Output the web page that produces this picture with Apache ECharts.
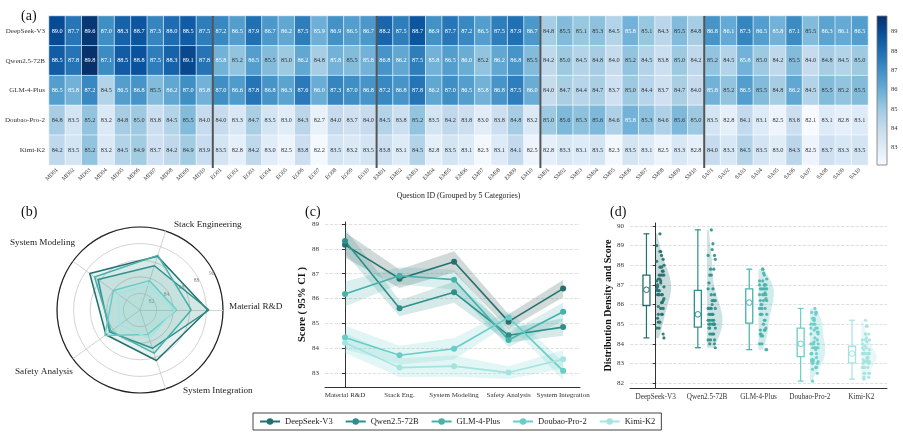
<!DOCTYPE html>
<html>
<head>
<meta charset="utf-8">
<script src="https://cdn.jsdelivr.net/npm/echarts@6/dist/echarts.min.js"></script>
<style>
  html, body { margin: 0; padding: 0; background: #fff; }
  #chart { width: 903px; height: 437px; }
</style>
</head>
<body>
<div id="chart"></div>
<script>
const models = ['DeepSeek-V3', 'Qwen2.5-72B', 'GLM-4-Plus', 'Doubao-Pro-2', 'Kimi-K2'];
const groupCodes = ['MD', 'EO', 'EM', 'SM', 'SA'];
const questionIds = groupCodes.flatMap(g => [1,2,3,4,5,6,7,8,9,10].map(n => g + String(n).padStart(2, '0')));
const categoryShort = ['Material R&D', 'Stack Eng.', 'System Modeling', 'Safety Analysis', 'System Integration'];
const categoryFull = ['Material R&D', 'Stack Engineering', 'System Modeling', 'Safety Analysis', 'System Integration'];

// scores per question (10 per category, same order as questionIds)
const deepseekScores = [
  89.0, 87.7, 89.6, 87.0, 88.3, 88.7, 87.3, 88.0, 88.5, 87.5,
  87.2, 86.5, 87.9, 86.7, 86.2, 87.5, 85.9, 86.9, 86.5, 86.7,
  88.2, 87.5, 88.7, 86.9, 87.7, 87.2, 86.5, 87.5, 87.9, 86.7,
  84.8, 85.5, 85.1, 85.3, 84.5, 85.8, 85.1, 84.3, 85.5, 84.8,
  86.8, 86.1, 87.3, 86.5, 85.8, 87.1, 85.5, 86.3, 86.1, 86.5
];
const qwenScores = [
  88.5, 87.8, 89.8, 87.1, 88.5, 88.8, 87.5, 88.3, 89.1, 87.8,
  85.8, 85.2, 86.5, 85.5, 85.0, 86.2, 84.8, 85.8, 85.5, 85.8,
  86.8, 86.2, 87.5, 85.8, 86.5, 86.0, 85.2, 86.2, 86.8, 85.5,
  84.2, 85.0, 84.5, 84.8, 84.0, 85.2, 84.5, 83.8, 85.0, 84.2,
  85.2, 84.5, 85.8, 85.0, 84.2, 85.5, 84.0, 84.8, 84.5, 85.0
];
const glmScores = [
  86.5, 85.8, 87.2, 84.5, 86.5, 86.8, 85.5, 86.2, 87.0, 85.8,
  87.0, 86.6, 87.8, 86.8, 86.3, 87.6, 86.0, 87.3, 87.0, 86.8,
  87.2, 86.8, 87.8, 86.2, 87.0, 86.5, 85.8, 86.8, 87.5, 86.0,
  84.0, 84.7, 84.4, 84.7, 83.7, 85.0, 84.4, 83.7, 84.7, 84.0,
  85.8, 85.2, 86.5, 85.5, 84.8, 86.2, 84.5, 85.5, 85.2, 85.5
];
const doubaoScores = [
  84.8, 83.5, 85.2, 83.2, 84.8, 85.0, 83.8, 84.5, 85.5, 84.0,
  84.0, 83.3, 84.7, 83.5, 83.0, 84.3, 82.7, 84.0, 83.7, 84.0,
  84.5, 83.8, 85.2, 83.5, 84.2, 83.8, 83.0, 83.8, 84.8, 83.2,
  85.0, 85.6, 85.3, 85.6, 84.6, 85.8, 85.3, 84.6, 85.6, 85.0,
  83.5, 82.8, 84.1, 83.1, 82.5, 83.8, 82.1, 83.1, 82.8, 83.1
];
const kimiScores = [
  84.2, 83.5, 85.2, 83.2, 84.5, 84.9, 83.7, 84.2, 84.9, 83.9,
  83.5, 82.8, 84.2, 83.0, 82.5, 83.8, 82.2, 83.5, 83.2, 83.5,
  83.8, 83.1, 84.5, 82.8, 83.5, 83.1, 82.3, 83.1, 84.1, 82.5,
  82.8, 83.3, 83.1, 83.5, 82.3, 83.5, 83.1, 82.5, 83.3, 82.8,
  84.0, 83.3, 84.5, 83.5, 83.0, 84.3, 82.5, 83.7, 83.3, 83.5
];
const allScores = [deepseekScores, qwenScores, glmScores, doubaoScores, kimiScores];
const colorTicks = [83, 84, 85, 86, 87, 88, 89];
const lineTicks = [83, 84, 85, 86, 87, 88, 89];
const distTicks = [82, 83, 84, 85, 86, 87, 88, 89, 90];
const radarTicks = [82, 84, 86, 88, 90];

const SERIF = "'Liberation Serif', 'DejaVu Serif', serif";
const colors = ['#22716e', '#2e8f8a', '#47b1ab', '#68cdc7', '#a3e4e0'];
const bandColors = ['rgba(70,105,104,0.25)', 'rgba(46,143,138,0.2)', 'rgba(71,177,171,0.2)', 'rgba(104,205,199,0.2)', 'rgba(140,220,215,0.25)'];
const blues = ['#f7fbff', '#deebf7', '#c6dbef', '#9ecae1', '#6baed6', '#4292c6', '#2171b5', '#08519c', '#08306b'];
const scoreMin = Math.min(...allScores.flat());
const scoreMax = Math.max(...allScores.flat());

const mean = a => a.reduce((s, v) => s + v, 0) / a.length;
const stdev = a => { const m = mean(a); return Math.sqrt(a.reduce((s, v) => s + (v - m) ** 2, 0) / (a.length - 1)); };
const quantile = (sorted, q) => {
  const pos = (sorted.length - 1) * q, lo = Math.floor(pos), hi = Math.ceil(pos);
  return sorted[lo] + (sorted[hi] - sorted[lo]) * (pos - lo);
};

// category means and 95% CI
const catStats = allScores.map(s => groupCodes.map((g, c) => {
  const v = s.slice(c * 10, c * 10 + 10);
  const m = mean(v), ci = 1.96 * stdev(v) / Math.sqrt(v.length);
  return { m, lo: m - ci, hi: m + ci };
}));

// box stats
const boxStats = allScores.map(s => {
  const srt = [...s].sort((a, b) => a - b);
  return { min: srt[0], q1: quantile(srt, 0.25), med: quantile(srt, 0.5), q3: quantile(srt, 0.75), max: srt[srt.length - 1] };
});

// half violin density
const kdes = allScores.map(s => {
  const h = stdev(s) * Math.pow(s.length, -0.2);
  const lo = Math.min(...s), hi = Math.max(...s);
  const pts = [];
  for (let k = 0; k <= 60; k++) {
    const y = lo + (hi - lo) * k / 60;
    pts.push([y, s.reduce((acc, v) => acc + Math.exp(-0.5 * ((y - v) / h) ** 2), 0)]);
  }
  const dmax = Math.max(...pts.map(p => p[1]));
  return pts.map(p => [p[0], p[1] / dmax]);
});

const heatData = [];
allScores.forEach((s, r) => s.forEach((v, c) => heatData.push({
  value: [c, r, v],
  label: { color: v >= 85.7 ? '#fff' : '#333' }
})));

const chart = echarts.init(document.getElementById('chart'));

const titleStyle = { fontFamily: SERIF, fontSize: 14, fontWeight: 'normal', color: '#111' };
const axisText = { fontFamily: SERIF, color: '#333' };

const series = [];
series.push({
  type: 'heatmap', xAxisIndex: 0, yAxisIndex: 0, data: heatData,
  label: { show: true, fontSize: 6.3, fontFamily: SERIF, formatter: p => p.value[2].toFixed(1) },
  itemStyle: { borderColor: '#fff', borderWidth: 0.6 },
  emphasis: { disabled: true }
});
// group separators
series.push({
  type: 'custom', xAxisIndex: 1, yAxisIndex: 0, silent: true, z: 5,
  data: groupCodes.slice(1).map((g, k) => [(k + 1) * 10, 0]),
  renderItem: (params, api) => {
    const cs = params.coordSys;
    const x = api.coord([api.value(0), 0])[0];
    return { type: 'line', shape: { x1: x, y1: cs.y, x2: x, y2: cs.y + cs.height + 3 }, style: { stroke: '#555', lineWidth: 2 } };
  }
});
// colorbar
series.push({
  type: 'custom', xAxisIndex: 2, yAxisIndex: 1, silent: true,
  data: [[0.5, scoreMin]],
  renderItem: (params) => {
    const cs = params.coordSys;
    return {
      type: 'rect', shape: { x: cs.x, y: cs.y, width: cs.width, height: cs.height },
      style: {
        fill: new echarts.graphic.LinearGradient(0, 1, 0, 0, blues.map((c, i) => ({ offset: i / (blues.length - 1), color: c }))),
        stroke: '#777', lineWidth: 0.8
      }
    };
  }
});
// radar
series.push({
  type: 'radar', radarIndex: 0, symbol: 'none', silent: true,
  data: models.map((m, i) => ({
    name: m, value: catStats[i].map(s => s.m),
    lineStyle: { color: colors[i], width: 1.5 },
    itemStyle: { color: colors[i] },
    areaStyle: { color: colors[i], opacity: 0.1 }
  }))
});
// CI bands
series.push({
  type: 'custom', xAxisIndex: 3, yAxisIndex: 2, silent: true, z: 1,
  data: models.map((m, i) => [i, catStats[i][0].m]),
  renderItem: (params, api) => {
    const i = params.dataIndex;
    const upper = catStats[i].map((s, k) => api.coord([k, s.hi]));
    const lower = catStats[i].map((s, k) => api.coord([k, s.lo])).reverse();
    return { type: 'polygon', shape: { points: upper.concat(lower) }, style: { fill: bandColors[i] } };
  }
});
models.forEach((m, i) => {
  series.push({
    type: 'line', name: m, xAxisIndex: 3, yAxisIndex: 2, symbol: 'circle', symbolSize: 6,
    color: colors[i], lineStyle: { width: 1.6, color: colors[i] }, itemStyle: { color: colors[i] },
    data: catStats[i].map((s, k) => [k, s.m]), z: 3
  });
});
// violins
series.push({
  type: 'custom', xAxisIndex: 4, yAxisIndex: 3, silent: true, z: 1,
  data: models.map((m, i) => [i, boxStats[i].med]),
  renderItem: (params, api) => {
    const i = params.dataIndex;
    const pts = [api.coord([i, kdes[i][0][0]])];
    kdes[i].forEach(p => pts.push(api.coord([i + 0.3 * p[1], p[0]])));
    pts.push(api.coord([i, kdes[i][kdes[i].length - 1][0]]));
    return { type: 'polygon', shape: { points: pts }, style: { fill: colors[i], opacity: 0.25 } };
  }
});
// strip points
models.forEach((m, i) => {
  series.push({
    type: 'scatter', name: '_pts' + i, xAxisIndex: 4, yAxisIndex: 3, symbolSize: 3.2, silent: true, z: 3,
    itemStyle: { color: colors[i], opacity: 0.9 },
    data: allScores[i].map((v, j) => [i + 0.02 + 0.14 * ((j * 7) % 10) / 9, v])
  });
});
// boxes
series.push({
  type: 'custom', xAxisIndex: 4, yAxisIndex: 3, silent: true, z: 4,
  data: models.map((m, i) => [i, boxStats[i].med]),
  renderItem: (params, api) => {
    const i = params.dataIndex, st = boxStats[i], c = colors[i];
    const xc = api.coord([i - 0.18, st.med])[0];
    const hw = 3.5;
    const y = v => api.coord([i, v])[1];
    const ls = { stroke: c, lineWidth: 1.2 };
    return {
      type: 'group', children: [
        { type: 'line', shape: { x1: xc, y1: y(st.max), x2: xc, y2: y(st.q3) }, style: ls },
        { type: 'line', shape: { x1: xc, y1: y(st.q1), x2: xc, y2: y(st.min) }, style: ls },
        { type: 'line', shape: { x1: xc - 3, y1: y(st.max), x2: xc + 3, y2: y(st.max) }, style: ls },
        { type: 'line', shape: { x1: xc - 3, y1: y(st.min), x2: xc + 3, y2: y(st.min) }, style: ls },
        { type: 'rect', shape: { x: xc - hw, y: y(st.q3), width: hw * 2, height: y(st.q1) - y(st.q3) }, style: { fill: '#fff', stroke: c, lineWidth: 1.3 } },
        { type: 'circle', shape: { cx: xc, cy: y(st.med), r: 2.8 }, style: { fill: '#fff', stroke: c, lineWidth: 1 } }
      ]
    };
  }
});

const radarNamePos = [[229, 307], [174, 225], [10, 243], [15, 372], [183, 391]];

const option = {
  animation: false,
  backgroundColor: '#fff',
  title: [
    { text: '(a)', left: 16, top: 4, textStyle: titleStyle },
    { text: '(b)', left: 16, top: 200, textStyle: titleStyle },
    { text: '(c)', left: 300, top: 200, textStyle: titleStyle },
    { text: '(d)', left: 605, top: 200, textStyle: titleStyle }
  ],
  legend: {
    data: models, left: 253, top: 413,
    itemWidth: 20, itemHeight: 8, itemGap: 12,
    borderColor: '#444', borderWidth: 1, padding: [4, 6],
    textStyle: { fontFamily: SERIF, fontSize: 8.5, color: '#222' }
  },
  visualMap: { show: false, seriesIndex: 0, dimension: 2, min: scoreMin, max: scoreMax, inRange: { color: blues } },
  grid: [
    { left: 49, top: 16, width: 819, height: 149 },
    { left: 877, top: 16, width: 10, height: 149 },
    { left: 325, top: 222, width: 255, height: 165 },
    { left: 630, top: 223, width: 257, height: 165 }
  ],
  xAxis: [
    {
      gridIndex: 0, type: 'category', data: questionIds,
      axisLine: { show: false }, axisTick: { length: 3, lineStyle: { color: '#555' } },
      axisLabel: { rotate: 45, interval: 0, fontSize: 5.8, margin: 4, ...axisText },
      name: 'Question ID (Grouped by 5 Categories)', nameLocation: 'middle', nameGap: 27,
      nameTextStyle: { fontFamily: SERIF, fontSize: 7.8, color: '#222' }
    },
    { gridIndex: 0, type: 'value', min: 0, max: 50, show: false },
    { gridIndex: 1, type: 'value', min: 0, max: 1, show: false },
    {
      gridIndex: 2, type: 'value', min: -0.367, max: 4.31,
      axisLine: { lineStyle: { color: '#333' } },
      axisTick: { show: false, customValues: [0, 1, 2, 3, 4] },
      axisLabel: { customValues: [0, 1, 2, 3, 4], formatter: v => categoryShort[Math.round(v)], fontSize: 7, margin: 5, ...axisText },
      splitLine: { show: false }
    },
    {
      gridIndex: 3, type: 'value', min: -0.5, max: 4.5,
      axisLine: { lineStyle: { color: '#333' } },
      axisTick: { show: false, customValues: [0, 1, 2, 3, 4] },
      axisLabel: { customValues: [0, 1, 2, 3, 4], formatter: v => models[Math.round(v)], fontSize: 7.2, margin: 6, ...axisText },
      splitLine: { show: false }
    }
  ],
  yAxis: [
    {
      gridIndex: 0, type: 'category', data: models, inverse: true,
      axisLine: { show: false }, axisTick: { length: 3, lineStyle: { color: '#555' } },
      axisLabel: { fontSize: 7, margin: 4, ...axisText }
    },
    {
      gridIndex: 1, type: 'value', min: scoreMin, max: scoreMax, position: 'right',
      axisLine: { show: false }, splitLine: { show: false },
      axisTick: { length: 3, customValues: colorTicks, lineStyle: { color: '#555' } },
      axisLabel: { customValues: colorTicks, fontSize: 6.5, margin: 4, ...axisText }
    },
    {
      gridIndex: 2, type: 'value', min: 82.44, max: 89.08,
      axisLine: { show: true, lineStyle: { color: '#333' } },
      axisTick: { show: true, length: 3, customValues: lineTicks, lineStyle: { color: '#333' } },
      axisLabel: { customValues: lineTicks, fontSize: 7, margin: 6, ...axisText },
      splitLine: { show: true, lineStyle: { color: '#d8d8d8', type: 'dashed', width: 0.8 } },
      name: 'Score ( 95% CI )', nameLocation: 'middle', nameGap: 15, nameRotate: 90,
      nameTextStyle: { fontFamily: SERIF, fontSize: 10.5, fontWeight: 'bold', color: '#111' }
    },
    {
      gridIndex: 3, type: 'value', min: 81.75, max: 90.15,
      axisLine: { show: true, lineStyle: { color: '#333' } },
      axisTick: { show: true, length: 3, customValues: distTicks, lineStyle: { color: '#333' } },
      axisLabel: { customValues: distTicks, fontSize: 7, margin: 6, ...axisText },
      splitLine: { show: true, lineStyle: { color: '#d8d8d8', type: 'dashed', width: 0.8 } },
      name: 'Distribution Density and Score', nameLocation: 'middle', nameGap: 17, nameRotate: 90,
      nameTextStyle: { fontFamily: SERIF, fontSize: 10, fontWeight: 'bold', color: '#111' }
    }
  ],
  radar: {
    center: [140, 310], radius: 83, startAngle: 0, shape: 'circle', splitNumber: 5,
    indicator: categoryFull.map(n => ({ name: n, min: 80, max: 90 })),
    axisName: { show: false },
    splitArea: { show: false },
    splitLine: { lineStyle: { color: '#c8c8c8', width: 0.8 } },
    axisLine: { lineStyle: { color: '#c8c8c8', width: 0.8 } },
    axisTick: { show: false }, axisLabel: { show: false }
  },
  polar: { center: [140, 310], radius: 83 },
  angleAxis: {
    type: 'value', min: 0, max: 360, startAngle: 25,
    axisLine: { lineStyle: { color: '#222', width: 1.2 } },
    axisTick: { show: false }, axisLabel: { show: false }, splitLine: { show: false }
  },
  radiusAxis: {
    type: 'value', min: 80, max: 90, interval: 2,
    axisLine: { show: false }, axisTick: { show: false }, splitLine: { show: false },
    axisLabel: { fontSize: 5.5, color: '#888', fontFamily: SERIF, margin: 2, formatter: v => radarTicks.includes(v) ? String(v) : '' }
  },
  graphic: categoryFull.map((n, k) => ({
    type: 'text', x: radarNamePos[k][0], y: radarNamePos[k][1], silent: true,
    style: { text: n, fontFamily: SERIF, fontSize: 9.2, fill: '#222', verticalAlign: 'middle' }
  })),
  series
};

chart.setOption(option);
</script>
</body>
</html>
